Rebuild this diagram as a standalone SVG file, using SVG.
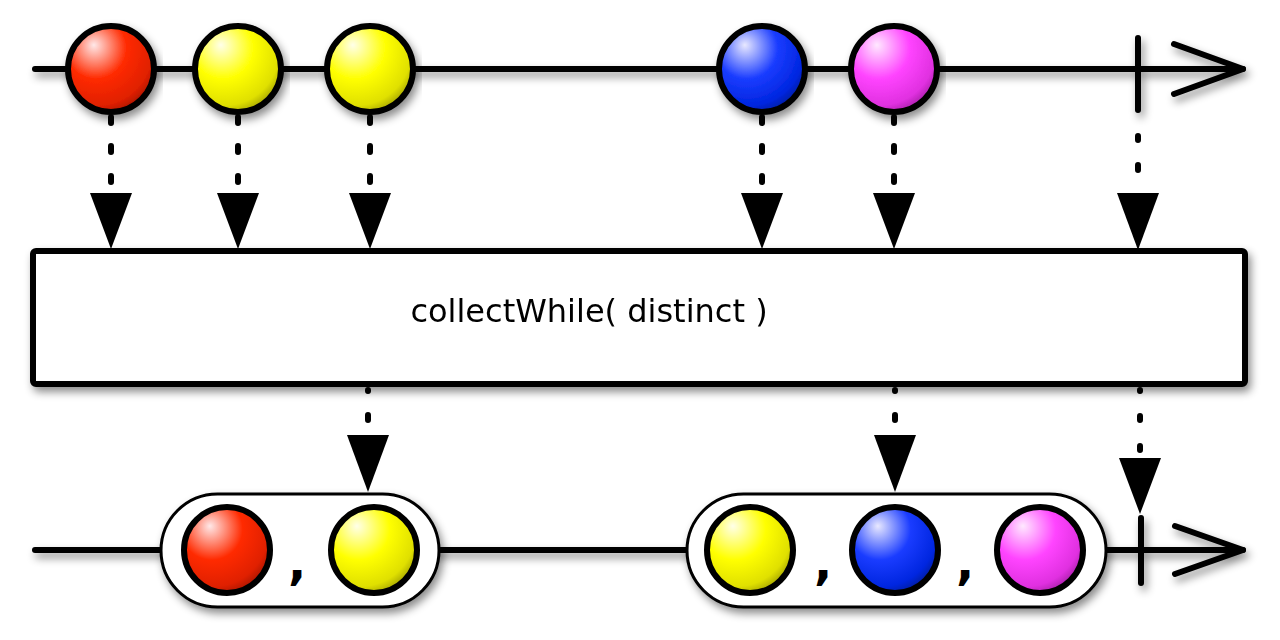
<svg xmlns="http://www.w3.org/2000/svg" width="1280" height="640" viewBox="0 0 1280 640">
  <style>
    .ln { fill: none; stroke: #000; stroke-width: 6; stroke-linecap: round; stroke-linejoin: round; }
    .dot { fill: none; stroke: #000; stroke-width: 6; stroke-linecap: round; }
    .tri { fill: #000; }
    .ball { stroke: #000; stroke-width: 6; }
    .pill { fill: #fff; stroke: #000; stroke-width: 3; }
    .comma { font-family: "DejaVu Sans", sans-serif; font-weight: bold; font-size: 48px; fill: #000; }
    .label { font-family: "DejaVu Sans", sans-serif; font-size: 32px; fill: #000; }
  </style>
  <defs>
    <filter id="sh" x="-10%" y="-30%" width="120%" height="160%">
      <feDropShadow dx="3" dy="5" stdDeviation="4" flood-color="#000" flood-opacity="0.45"/>
    </filter>
    <radialGradient id="gRed" cx="0.35" cy="0.3" r="0.8" fx="0.3" fy="0.22">
      <stop offset="0" stop-color="#ffe8e8"/>
      <stop offset="0.45" stop-color="#ff2a00"/>
      <stop offset="0.8" stop-color="#e02000"/>
      <stop offset="1" stop-color="#901000"/>
    </radialGradient>
    <radialGradient id="gYel" cx="0.35" cy="0.3" r="0.8" fx="0.3" fy="0.22">
      <stop offset="0" stop-color="#ffffe8"/>
      <stop offset="0.45" stop-color="#ffff00"/>
      <stop offset="0.8" stop-color="#e0e000"/>
      <stop offset="1" stop-color="#8a8a00"/>
    </radialGradient>
    <radialGradient id="gBlu" cx="0.35" cy="0.3" r="0.8" fx="0.3" fy="0.22">
      <stop offset="0" stop-color="#e8e8ff"/>
      <stop offset="0.45" stop-color="#1a3cff"/>
      <stop offset="0.8" stop-color="#0026e0"/>
      <stop offset="1" stop-color="#001880"/>
    </radialGradient>
    <radialGradient id="gMag" cx="0.35" cy="0.3" r="0.8" fx="0.3" fy="0.22">
      <stop offset="0" stop-color="#ffe8ff"/>
      <stop offset="0.45" stop-color="#ff44ff"/>
      <stop offset="0.8" stop-color="#e030e0"/>
      <stop offset="1" stop-color="#901890"/>
    </radialGradient>
  </defs>

  <!-- timelines -->
  <g id="timeline-top" filter="url(#sh)">
    <path class="ln" d="M35 69 H1243"/>
    <path class="ln" d="M1138 38 V110"/>
    <path class="ln" d="M1174 44 L1243 69 L1174 94"/>
  </g>
  <g id="timeline-bottom" filter="url(#sh)">
    <path class="ln" d="M35 550 H1243"/>
    <path class="ln" d="M1141 518 V583"/>
    <path class="ln" d="M1175 526 L1243 550 L1175 574"/>
  </g>

  <!-- connectors -->
  <g id="connectors">
    <path class="dot" d="M111 117 V123 M111 146 V152 M111 176 V182"/>
    <polygon class="tri" points="90,193 132,193 111,249"/>
    <path class="dot" d="M238 117 V123 M238 146 V152 M238 176 V182"/>
    <polygon class="tri" points="217,193 259,193 238,249"/>
    <path class="dot" d="M370 117 V123 M370 146 V152 M370 176 V182"/>
    <polygon class="tri" points="349,193 391,193 370,249"/>
    <path class="dot" d="M762 117 V123 M762 146 V152 M762 176 V182"/>
    <polygon class="tri" points="741,193 783,193 762,249"/>
    <path class="dot" d="M894 117 V123 M894 146 V152 M894 176 V182"/>
    <polygon class="tri" points="873,193 915,193 894,249"/>
    <path class="dot" d="M1138 136 V140 M1138 165 V170"/>
    <polygon class="tri" points="1117,193 1159,193 1138,250"/>

    <path class="dot" d="M368 390 V391 M368 415 V420"/>
    <polygon class="tri" points="347,435 389,435 368,492"/>
    <path class="dot" d="M895 390 V391 M895 415 V420"/>
    <polygon class="tri" points="874,435 916,435 895,492"/>
    <path class="dot" d="M1140 390 V391 M1140 416 V420 M1140 446 V450"/>
    <polygon class="tri" points="1119,458 1161,458 1140,514"/>
  </g>

  <!-- top marbles -->
  <g id="m-red-top" filter="url(#sh)"><circle class="ball" cx="111" cy="69" r="43" fill="url(#gRed)"/></g>
  <g id="m-yel1-top" filter="url(#sh)"><circle class="ball" cx="238" cy="69" r="43" fill="url(#gYel)"/></g>
  <g id="m-yel2-top" filter="url(#sh)"><circle class="ball" cx="370" cy="69" r="43" fill="url(#gYel)"/></g>
  <g id="m-blu-top" filter="url(#sh)"><circle class="ball" cx="762" cy="69" r="43" fill="url(#gBlu)"/></g>
  <g id="m-mag-top" filter="url(#sh)"><circle class="ball" cx="894" cy="69" r="43" fill="url(#gMag)"/></g>

  <!-- operator box -->
  <g id="operator" filter="url(#sh)">
    <rect x="33" y="251" width="1212" height="133" rx="3" fill="#fff" stroke="#000" stroke-width="6"/>
    <text class="label" x="589" y="322" text-anchor="middle">collectWhile( distinct )</text>
  </g>

  <!-- output group 1 -->
  <g id="group1">
    <rect class="pill" x="161" y="494" width="278" height="113" rx="56.5" filter="url(#sh)"/>
    <circle class="ball" cx="227" cy="550" r="43" fill="url(#gRed)"/>
    <text class="comma" x="297" y="579" text-anchor="middle">,</text>
    <circle class="ball" cx="374" cy="550" r="43" fill="url(#gYel)"/>
  </g>

  <!-- output group 2 -->
  <g id="group2">
    <rect class="pill" x="687" y="494" width="419" height="113" rx="56.5" filter="url(#sh)"/>
    <circle class="ball" cx="750" cy="550" r="43" fill="url(#gYel)"/>
    <text class="comma" x="823" y="579" text-anchor="middle">,</text>
    <circle class="ball" cx="895" cy="550" r="43" fill="url(#gBlu)"/>
    <text class="comma" x="965" y="579" text-anchor="middle">,</text>
    <circle class="ball" cx="1040" cy="550" r="43" fill="url(#gMag)"/>
  </g>
</svg>
